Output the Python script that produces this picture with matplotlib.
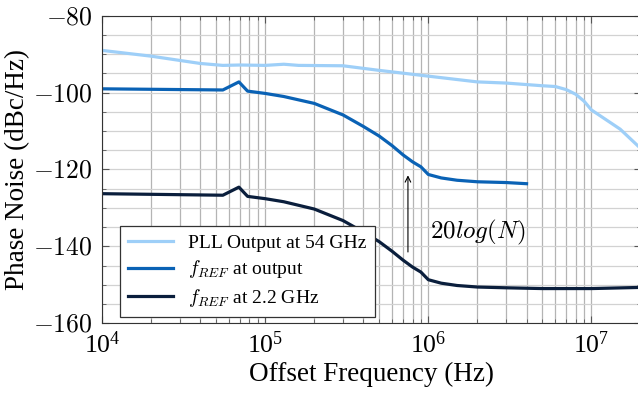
import matplotlib
matplotlib.use("Agg")
import matplotlib.pyplot as plt
from matplotlib.ticker import FuncFormatter, MultipleLocator, LogLocator, NullFormatter

plt.rcParams["font.family"] = ["Liberation Serif", "DejaVu Serif"]
plt.rcParams["mathtext.fontset"] = "cm"

# PLL output at 54 GHz
pll_f = [1e4, 2e4, 4e4, 5.5e4, 7e4, 1e5, 1.3e5, 1.6e5, 3e5, 5e5, 1e6, 2e6, 3e6,
         5e6, 6e6, 7e6, 8e6, 9e6, 1e7, 1.5e7, 2e7]
pll_pn = [-89.0, -90.5, -92.4, -92.9, -92.8, -92.9, -92.6, -92.9, -93.0, -94.2,
          -95.7, -97.2, -97.5, -98.2, -98.4, -99.2, -100.4, -102.2, -104.5,
          -109.5, -114.5]

# f_REF referred to output
out_f = [1e4, 5.5e4, 6.9e4, 7.8e4, 1e5, 1.3e5, 2e5, 3e5, 4e5, 5e5, 6e5, 7e5,
         8e5, 9e5, 1e6, 1.2e6, 1.5e6, 2e6, 3e6, 4e6]
out_pn = [-99.0, -99.3, -97.2, -99.6, -100.2, -101.0, -102.8, -105.8, -108.8,
          -111.3, -113.8, -116.2, -118.0, -119.3, -121.3, -122.2, -122.8, -123.2,
          -123.4, -123.7]

# f_REF at 2.2 GHz
ref_f = [1e4, 5.5e4, 6.9e4, 7.8e4, 1e5, 1.3e5, 2e5, 3e5, 4e5, 5e5, 6e5, 7e5,
         8e5, 9e5, 1e6, 1.2e6, 1.5e6, 2e6, 3e6, 5e6, 1e7, 2e7]
ref_pn = [-126.3, -126.7, -124.6, -127.0, -127.6, -128.4, -130.3, -133.3, -136.3,
          -138.8, -141.3, -143.6, -145.4, -146.7, -148.7, -149.6, -150.2, -150.6,
          -150.8, -151.0, -151.0, -150.7]

fig = plt.figure(figsize=(6.38, 3.96), dpi=100)
ax = fig.add_axes([0.16, 0.184, 0.844, 0.776])

ax.plot(pll_f, pll_pn, color="#9ecff8", lw=2.3, label="PLL Output at 54 GHz")
ax.plot(out_f, out_pn, color="#0a62b5", lw=2.3, label=r"$f_{REF}$ at output")
ax.plot(ref_f, ref_pn, color="#0a1e3c", lw=2.3, label=r"$f_{REF}$ at 2.2 GHz")

ax.set_xscale("log")
ax.set_xlim(1e4, 2e7)
ax.set_ylim(-160, -80)
ax.xaxis.set_major_locator(LogLocator(base=10, numticks=10))
ax.xaxis.set_minor_locator(LogLocator(base=10, subs=range(2, 10), numticks=100))
ax.xaxis.set_minor_formatter(NullFormatter())
ax.yaxis.set_major_locator(MultipleLocator(20))
ax.yaxis.set_minor_locator(MultipleLocator(5))
ax.yaxis.set_major_formatter(FuncFormatter(lambda v, p: r"$%d$" % v))

ax.grid(which="both", axis="x", color="#b4b4b4", lw=0.9)
ax.grid(which="both", axis="y", color="#d2d2d2", lw=0.9)
ax.set_axisbelow(True)
ax.tick_params(which="both", direction="in", top=True, right=True, labelsize=18.5,
               color="#555555")
ax.tick_params(axis="y", pad=7)
ax.tick_params(axis="x", pad=6)
ax.tick_params(which="major", length=5)
ax.tick_params(which="minor", length=3)
for s in ax.spines.values():
    s.set_color("#333333")

ax.set_xlabel("Offset Frequency (Hz)", fontsize=19.5, labelpad=3)
ax.set_ylabel("Phase Noise (dBc/Hz)", fontsize=19.5, labelpad=2)

ax.annotate("", xy=(7.5e5, -120.8), xytext=(7.5e5, -142.2),
            arrowprops=dict(arrowstyle="->", color="black", lw=0.8))
ax.text(1.03e6, -136.5, r"$20log(N)$", fontsize=18, va="center")

leg = ax.legend(loc="lower left", bbox_to_anchor=(0.034, 0.02), borderaxespad=0,
                fontsize=14, fancybox=False, framealpha=1, edgecolor="#333333",
                handlelength=2.3, labelspacing=0.35)
leg.get_frame().set_linewidth(0.9)

fig.savefig("out.png", dpi=100)
